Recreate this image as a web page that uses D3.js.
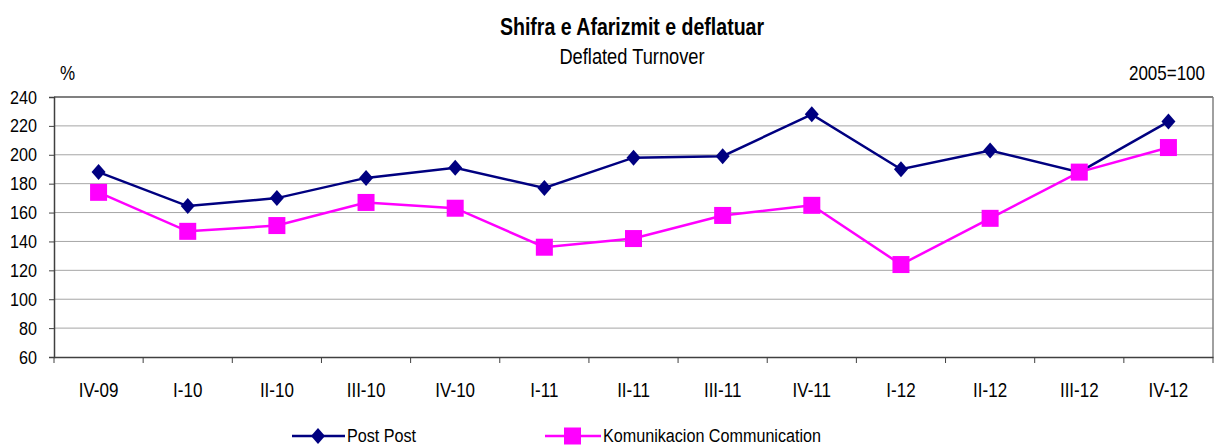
<!DOCTYPE html>
<html><head><meta charset="utf-8">
<script src="https://cdn.jsdelivr.net/npm/d3@7"></script>
<style>body{margin:0;background:#fff;} text{font-family:"Liberation Sans",Arial,sans-serif;fill:#000;}</style>
</head><body>
<svg id="c" width="1215" height="446"></svg>
<script>
const categories = ["IV-09","I-10","II-10","III-10","IV-10","I-11","II-11","III-11","IV-11","I-12","II-12","III-12","IV-12"];
const postValues = [188,164.5,170,184,191,177,198,199,228,190,203,188,223];
const commValues = [174,147,151,167,163,136,142,158,165,124,156,188,205];
const yTicks = [60,80,100,120,140,160,180,200,220,240];
const seriesNames = ["Post  Post","Komunikacion  Communication"];

const K = 0.85; // horizontal squeeze of the condensed-looking text
function squeeze(sel){
  sel.each(function(){
    const t = d3.select(this);
    const x = +(t.attr("x") || 0);
    t.attr("transform", `translate(${x},0) scale(${K},1) translate(${-x},0)`);
  });
}

const svg = d3.select("#c");
const m = {l:54, t:97, r:1213, b:357};
const x = d3.scaleBand().domain(categories).range([m.l, m.r]);
const y = d3.scaleLinear().domain([60,240]).range([m.b, m.t]);

// gridlines
svg.append("g").selectAll("line").data(yTicks.slice(1)).join("line")
  .attr("x1", m.l).attr("x2", m.r).attr("y1", d=>y(d)).attr("y2", d=>y(d))
  .attr("stroke", "#a6a6a6").attr("stroke-width", 1);
svg.append("line").attr("x1",m.l).attr("x2",m.r).attr("y1",m.t).attr("y2",m.t).attr("stroke","#808080").attr("stroke-width",2);
svg.append("line").attr("x1",m.r).attr("x2",m.r).attr("y1",m.t).attr("y2",m.b).attr("stroke","#808080").attr("stroke-width",1.5);

// y axis
const ya = svg.append("g").attr("transform",`translate(${m.l},0)`)
  .call(d3.axisLeft(y).tickValues(yTicks).tickSize(5).tickPadding(12));
ya.select(".domain").attr("stroke","#404040").attr("stroke-width",1.5);
ya.selectAll(".tick line").attr("stroke","#404040");
ya.selectAll("text").attr("font-size",19).attr("fill","#000").attr("font-family","Liberation Sans, Arial").call(squeeze);

// x axis
const xa = svg.append("g").attr("transform",`translate(0,${m.b})`)
  .call(d3.axisBottom(x).tickSize(0).tickPadding(26));
xa.select(".domain").attr("stroke","#404040").attr("stroke-width",1.5);
xa.selectAll("text").attr("font-size",20).attr("fill","#000").attr("font-family","Liberation Sans, Arial").call(squeeze);
svg.append("g").selectAll("line").data(d3.range(categories.length+1)).join("line")
  .attr("x1",i=>m.l + i*x.bandwidth()).attr("x2",i=>m.l + i*x.bandwidth())
  .attr("y1",m.b).attr("y2",m.b+6).attr("stroke","#404040");

const cx = d => x(d) + x.bandwidth()/2;
const line = d3.line().x((d,i)=>cx(categories[i])).y(d=>y(d));
const diamondPath = "M0,-8L7,0L0,8L-7,0Z";

// post series
svg.append("path").datum(postValues).attr("d",line).attr("fill","none").attr("stroke","#000080").attr("stroke-width",2.5);
svg.append("g").selectAll("path").data(postValues).join("path")
  .attr("d", diamondPath)
  .attr("transform",(d,i)=>`translate(${cx(categories[i])},${y(d)})`)
  .attr("fill","#000080");
// comm series
svg.append("path").datum(commValues).attr("d",line).attr("fill","none").attr("stroke","#FF00FF").attr("stroke-width",2.5);
svg.append("g").selectAll("rect").data(commValues).join("rect")
  .attr("x",(d,i)=>cx(categories[i])-8.5).attr("y",d=>y(d)-8.5).attr("width",17).attr("height",17).attr("fill","#FF00FF");

// titles
svg.append("text").attr("x",632).attr("y",35).attr("text-anchor","middle").attr("font-size",23).attr("font-weight","bold").text("Shifra e Afarizmit e deflatuar").call(squeeze);
svg.append("text").attr("x",632).attr("y",64).attr("text-anchor","middle").attr("font-size",21.5).text("Deflated Turnover").call(squeeze);
svg.append("text").attr("x",60).attr("y",80).attr("font-size",20).text("%").call(squeeze);
svg.append("text").attr("x",1205).attr("y",80).attr("text-anchor","end").attr("font-size",20).text("2005=100").call(squeeze);

// legend
const ly = 436;
const lg = svg.append("g");
lg.append("line").attr("x1",292).attr("x2",345).attr("y1",ly).attr("y2",ly).attr("stroke","#000080").attr("stroke-width",2.5);
lg.append("path").attr("d",diamondPath).attr("transform",`translate(318,${ly})`).attr("fill","#000080");
lg.append("line").attr("x1",545).attr("x2",601).attr("y1",ly).attr("y2",ly).attr("stroke","#FF00FF").attr("stroke-width",2.5);
lg.append("rect").attr("x",564).attr("y",ly-8.5).attr("width",17).attr("height",17).attr("fill","#FF00FF");
lg.append("text").attr("x",347).attr("y",ly+6).attr("font-size",19).text(seriesNames[0]).call(squeeze);
lg.append("text").attr("x",603).attr("y",ly+6).attr("font-size",19).text(seriesNames[1]).call(squeeze);
</script>
</body></html>
